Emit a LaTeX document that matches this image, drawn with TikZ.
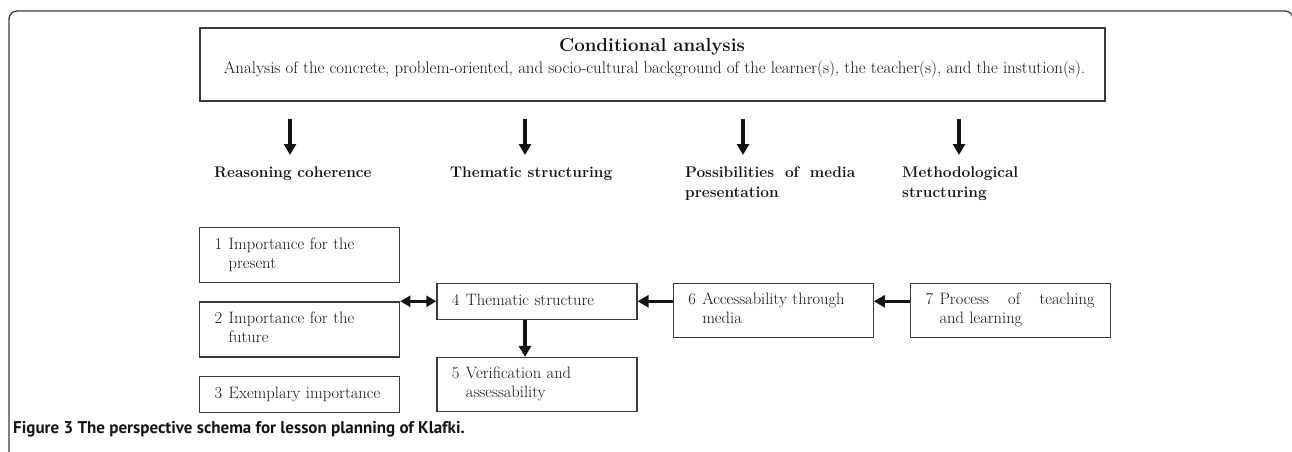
\documentclass[tikz,border=0pt]{standalone}
\usepackage{fontspec}
\setsansfont{PT Sans}
\usetikzlibrary{positioning}
\usetikzlibrary{arrows.meta}
\definecolor{framegray}{HTML}{3A3A3A}
\definecolor{inkdark}{HTML}{141414}
\tikzset{plan box/.style={draw=framegray, line width=1.3pt, text width=170pt, align=left, inner xsep=15pt, inner ysep=0pt, text=inkdark, font=\fontsize{16.5}{19}\selectfont},}
\tikzset{two line box/.style={plan box, minimum height=54pt},}
\tikzset{one line box/.style={plan box, minimum height=36pt},}
\tikzset{step label/.style={inner sep=0pt, align=left, anchor=north west, text=inkdark, font=\fontsize{15.4}{20}\selectfont\bfseries},}
\tikzset{flow arrow/.style={-{Triangle[length=11pt,width=12pt]}, line width=3.4pt, draw=inkdark},}
\tikzset{both arrow/.style={{Triangle[length=10pt,width=11pt]}-{Triangle[length=10pt,width=11pt]}, line width=3pt, draw=inkdark},}
\newcommand{\numbered}[2]{\makebox[14pt][l]{#1}\begin{tabular}[t]{@{}l@{}}#2\end{tabular}}

\begin{document}
\begin{tikzpicture}[x=1pt,y=-1pt]
     \useasboundingbox (0,0) rectangle (1292,451);
     \draw[framegray, line width=1.3pt, rounded corners=8pt] (9,460) -- (9,11) -- (1293,11) -- (1293,460);

     \node[draw=framegray, line width=1.3pt, minimum width=905pt, minimum height=73pt, inner sep=0pt] (cond) at (652.5,64.5) {};
     \node[anchor=base, inner sep=0pt, text=inkdark, font=\fontsize{18.7}{22}\selectfont\bfseries] (condtitle) at (652,51) {Conditional analysis};
     \node[anchor=base, inner sep=0pt, text=inkdark, font=\fontsize{16.85}{19}\selectfont] (condnote) at (654.5,73) {Analysis of the concrete, problem-oriented, and socio-cultural background of the learner(s), the teacher(s), and the instution(s).};

     \foreach \i/\x in {1/290,2/525,3/743,4/959}{
       \coordinate (top\i) at (\x,119);
       \coordinate (tip\i) at (\x,155);
       \draw[flow arrow] (top\i) -- (tip\i);
     }

     \node[step label] (reason) at (214,167) {Reasoning coherence};
     \node[step label] (thema) at (450,167) {Thematic structuring};
     \node[step label] (mediapres) at (685,167) {\hbox to 170pt{Possibilities\hfil of\hfil media}\\presentation};
     \node[step label] (method) at (902,167) {Methodological\\structuring};

     \node[two line box, minimum height=55pt, anchor=north west] (imp1) at (199,227) {\numbered{1}{Importance for the\\present}};
     \node[two line box, minimum height=55pt] (imp2) [below=18pt of imp1] {\numbered{2}{Importance for the\\future}};
     \node[one line box] (imp3) [below=18pt of imp2] {\numbered{3}{Exemplary importance}};
     \node[one line box] (thematic) [right=36pt of imp2.north east] {\numbered{4}{Thematic structure}};
     \node[two line box] (verify) [below=37pt of thematic] {\numbered{5}{Verification and\\assessability}};
     \node[two line box] (media) [right=35pt of thematic.north east, anchor=north west] {\numbered{6}{Accessability through\\media}};
     \node[two line box] (process) [right=36pt of media] {\numbered{7}{\hbox to 155pt{Process\hfil of\hfil teaching}\\and learning}};

     \draw[both arrow] (imp2.north east) -- (thematic.west);
     \draw[flow arrow] (thematic.south -| top2) -- (verify.north -| top2);
     \draw[flow arrow] (media.west |- thematic.east) -- (thematic.east);
     \draw[flow arrow] (process.west |- thematic.east) -- (media.east |- thematic.east);

     \node[anchor=base west, inner sep=0pt, text=inkdark, font=\sffamily\bfseries\fontsize{17}{20}\selectfont] (caption) at (13,433) {Figure 3 The perspective schema for lesson planning of Klafki.};
\end{tikzpicture}
\end{document}
